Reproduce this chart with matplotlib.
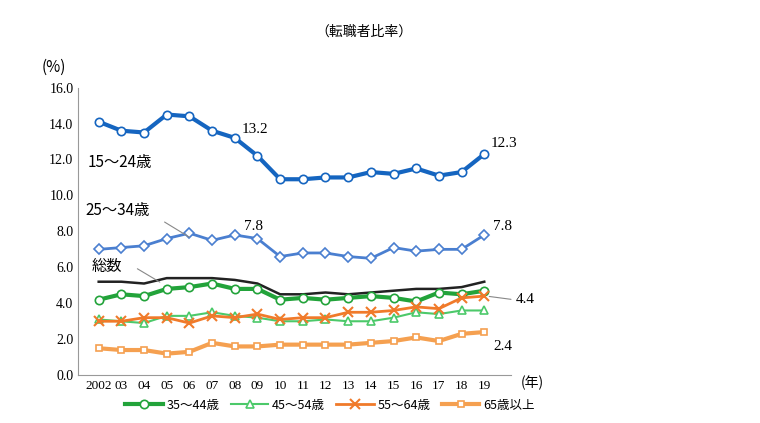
import matplotlib
matplotlib.use("Agg")
import matplotlib.pyplot as plt

plt.rcParams["font.family"] = "Noto Sans CJK JP"

years = list(range(2002, 2020))
xlabels = ["2002"] + [f"{y%100:02d}" for y in range(2003, 2020)]
s1524 = [14.1,13.6,13.5,14.5,14.4,13.6,13.2,12.2,10.9,10.9,11.0,11.0,11.3,11.2,11.5,11.1,11.3,12.3]
s2534 = [7.0,7.1,7.2,7.6,7.9,7.5,7.8,7.6,6.6,6.8,6.8,6.6,6.5,7.1,6.9,7.0,7.0,7.8]
total = [5.2,5.2,5.1,5.4,5.4,5.4,5.3,5.1,4.5,4.5,4.6,4.5,4.6,4.7,4.8,4.8,4.9,5.2]
s3544 = [4.2,4.5,4.4,4.8,4.9,5.1,4.8,4.8,4.2,4.3,4.2,4.3,4.4,4.3,4.1,4.6,4.5,4.7]
s4554 = [3.1,3.0,2.9,3.3,3.3,3.5,3.3,3.2,3.0,3.0,3.1,3.0,3.0,3.2,3.5,3.4,3.6,3.6]
s5564 = [3.0,3.0,3.2,3.2,2.9,3.3,3.2,3.4,3.1,3.2,3.2,3.5,3.5,3.6,3.8,3.7,4.3,4.4]
s65 = [1.5,1.4,1.4,1.2,1.3,1.8,1.6,1.6,1.7,1.7,1.7,1.7,1.8,1.9,2.1,1.9,2.3,2.4]

fig = plt.figure(figsize=(7.6, 4.23), dpi=100)
ax = fig.add_axes([0.103, 0.113, 0.57, 0.68])
x = list(range(len(years)))
blue = "#1565C0"; lblue = "#4A7FD0"; green = "#22A33A"; lgreen = "#4CC96A"
orange = "#F07A2A"; lorange = "#F5A050"
ax.plot(x, s1524, color=blue, lw=3, marker="o", ms=6, mfc="white", mec=blue, mew=1.2)
ax.plot(x, s2534, color=lblue, lw=2, marker="D", ms=5, mfc="white", mec=lblue, mew=1.2)
ax.plot(x, total, color="#222222", lw=1.8)
l1, = ax.plot(x, s3544, color=green, lw=3, marker="o", ms=6, mfc="white", mec=green, mew=1.2)
l2, = ax.plot(x, s4554, color=lgreen, lw=1.5, marker="^", ms=6, mfc="white", mec=lgreen, mew=1.2)
l3, = ax.plot(x, s5564, color=orange, lw=2, marker="x", ms=7, mec=orange, mew=1.5)
l4, = ax.plot(x, s65, color=lorange, lw=3, marker="s", ms=5, mfc="white", mec=lorange, mew=1.2)

ax.set_ylim(0, 16)
ax.set_yticks([i*2 for i in range(9)])
ax.set_yticklabels([f"{i*2:.1f}" for i in range(9)], fontsize=10, family="Liberation Serif")
ax.set_xlim(-0.9, 18.2)
ax.set_xticks(x)
ax.set_xticklabels(xlabels, fontsize=9.5, family="Liberation Serif")
ax.tick_params(length=0)
for s in ["top", "right"]:
    ax.spines[s].set_visible(False)
ax.spines["left"].set_color("#999999")
ax.spines["bottom"].set_color("#999999")

tf = dict(fontsize=11, family="Liberation Serif")
ax.text(6.3, 13.5, "13.2", **tf)
ax.text(17.3, 12.7, "12.3", **tf)
ax.text(6.4, 8.1, "7.8", **tf)
ax.text(17.4, 8.1, "7.8", **tf)
ax.text(18.4, 4.0, "4.4", **tf)
ax.text(17.4, 1.4, "2.4", **tf)
ax.text(-0.5, 11.6, "15～24歳", fontsize=11)
ax.text(-0.6, 8.9, "25～34歳", fontsize=11)
ax.annotate("", xy=(4.1, 7.6), xytext=(2.8, 8.6), arrowprops=dict(arrowstyle="-", color="#888", lw=0.8))
ax.text(-0.3, 5.8, "総数", fontsize=11)
ax.annotate("", xy=(2.8, 5.1), xytext=(1.6, 6.0), arrowprops=dict(arrowstyle="-", color="#888", lw=0.8))
ax.annotate("", xy=(17.1, 4.4), xytext=(18.3, 4.2), arrowprops=dict(arrowstyle="-", color="#888", lw=0.8))
fig.text(0.055, 0.83, "(%)", fontsize=11)
fig.text(0.685, 0.085, "(年)", fontsize=10)
fig.text(0.415, 0.915, "（転職者比率）", fontsize=10)
fig.legend([l1, l2, l3, l4], ["35～44歳", "45～54歳", "55～64歳", "65歳以上"],
           loc="lower left", bbox_to_anchor=(0.15, 0.0), ncol=4, frameon=False,
           fontsize=9, handlelength=3.0, handletextpad=0.3, columnspacing=0.9)
fig.savefig("out.png")
